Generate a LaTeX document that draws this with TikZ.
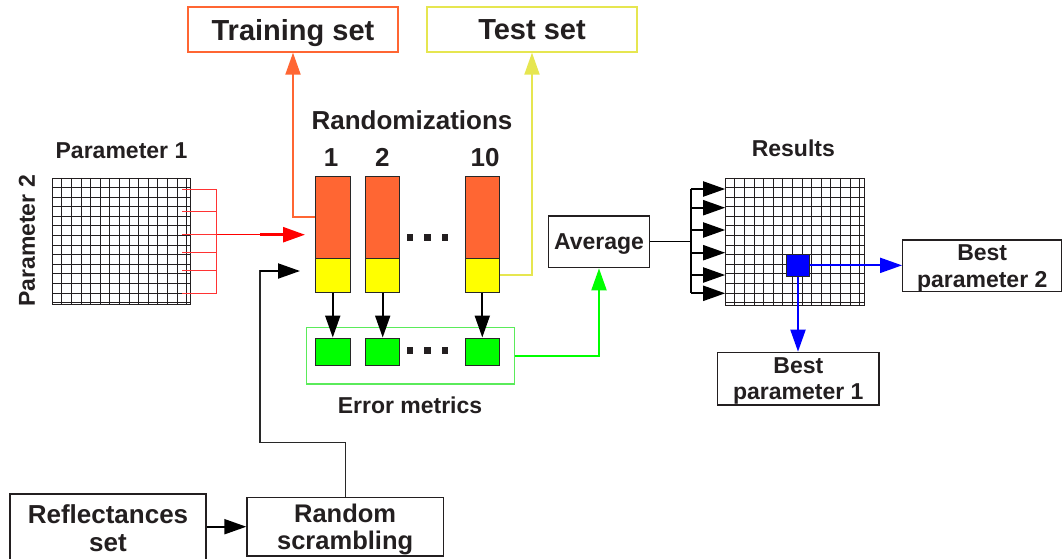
\documentclass[tikz,border=0pt]{standalone}
\usepackage{fontspec}
\setmainfont{Liberation Sans}
\usetikzlibrary{arrows.meta,calc}

\definecolor{ink}{RGB}{35,31,32}
\definecolor{barorange}{RGB}{255,102,51}
\definecolor{baryellow}{RGB}{255,255,0}
\definecolor{metricgreen}{RGB}{0,255,0}
\definecolor{framegreen}{RGB}{90,235,90}
\definecolor{testline}{RGB}{230,230,80}
\definecolor{bestblue}{RGB}{0,0,255}
\definecolor{edge}{RGB}{40,40,40}

\tikzset{
  tip/.style={-{Triangle[length=22pt,width=15pt]}},
  box/.style={draw=ink, line width=1.3pt, fill=white, inner sep=0pt, text depth=0pt,
    text=ink, align=center, font=\fontsize{23}{26.7}\selectfont\bfseries},
  setbox/.style={box, minimum width=210pt, minimum height=45pt,
    font=\fontsize{29}{33}\selectfont\bfseries},
  label/.style={text=ink, inner sep=0pt, font=\fontsize{23}{26}\selectfont\bfseries},
  biglabel/.style={text=ink, inner sep=0pt, font=\fontsize{26}{30}\selectfont\bfseries},
  trainpart/.style={draw=edge, line width=1pt, fill=barorange, minimum width=34.5pt, minimum height=82pt, inner sep=0pt},
  testpart/.style={draw=edge, line width=1pt, fill=baryellow, minimum width=34.5pt, minimum height=34pt, inner sep=0pt},
  metric/.style={draw=edge, line width=1pt, fill=metricgreen, minimum width=34.5pt, minimum height=27.7pt, inner sep=0pt},
  gridframe/.style={draw=ink, line width=1pt, inner sep=0pt},
  gridline/.style={draw=ink, line width=0.9pt},
  dot/.style={fill=ink, minimum size=6.5pt, inner sep=0pt},
  flow/.style={line width=2pt, draw=black},
}

\begin{document}
\begin{tikzpicture}[x=1pt,y=-1pt]
\useasboundingbox (0,0) rectangle (1062,558);

% ---- output sets ----
\node[setbox, draw=barorange] (train) at (293,29.5) {Training set};
\node[setbox, draw=testline] (test) at (532,29.5) {Test set};

% ---- randomization bars ----
\node[biglabel, anchor=base] (randlbl) at (412,129.3) {Randomizations};
\node[biglabel, anchor=base] (n1) at (331,166.7) {1};
\node[biglabel, anchor=base] (n2) at (382.3,166.7) {2};
\node[biglabel, anchor=base] (n10) at (485,166.7) {10};

\foreach \name/\cx in {1/332.75, 2/382.7, 10/482.3} {
  \node[trainpart] (bar\name o) at (\cx,217) {};
  \node[testpart] (bar\name y) at (\cx,275) {};
  \node[metric] (g\name) at (\cx,351.85) {};
}
\foreach \dx [count=\i] in {410,427.5,445} {
  \node[dot] (bd\i) at (\dx,237.7) {};
  \node[dot] (gd\i) at (\dx,350.7) {};
}

% frame around the error metrics
\node[draw=framegreen, line width=1.3pt, minimum width=207.6pt, minimum height=56.7pt, inner sep=0pt] (errors) at (410.5,355.65) {};
\node[label, anchor=base] (errlbl) at (410,413.3) {Error metrics};

\foreach \name in {1,2,10}
  \draw[flow, tip] (bar\name y.south) -- (g\name.north);

% ---- split into training / test ----
\draw[barorange, line width=2pt, tip] (bar1o.west) -| (train.south);
\draw[testline, line width=2pt, tip] (bar10y.east) -| (test.south);

% ---- parameter grid ----
\node[label, anchor=base] (p1lbl) at (121.5,158.3) {Parameter 1};
\node[label, rotate=90] (p2lbl) at (27,241) {Parameter 2};
\node[gridframe, minimum width=138pt, minimum height=126pt] (grid1) at (121.7,241.3) {};
\foreach \k in {1,...,14}
  \draw[gridline] ($(grid1.north west)+(9.6*\k,0)$) -- ($(grid1.south west)+(9.6*\k,0)$);
\foreach \k in {1,...,13}
  \draw[gridline] ($(grid1.north west)+(0,9.6*\k)$) -- ($(grid1.north east)+(0,9.6*\k)$);

% rows of the grid gathered towards the bars
\coordinate (rbtop) at (216.7,189);
\coordinate (rbbot) at (216.7,293.3);
\coordinate (rbmid) at (216.7,234.7);
\coordinate (rtip) at (305,234.7);
\foreach \y in {189,211.7,234.7,252.3,270.3,293.3}
  \draw[red!80, line width=1pt] (182.3,\y) -- (rbtop |- 0,\y);
\draw[red!80, line width=1pt] (rbtop) -- (rbbot);
\draw[red, line width=1pt] (rbmid) -- (260,234.7);
\draw[red, line width=2.5pt, -{Triangle[length=22pt,width=15pt]}] (260,234.7) -- (rtip);

% ---- reflectances and scrambling ----
\node[box, minimum width=196pt, minimum height=68.2pt, font=\fontsize{26}{28}\selectfont\bfseries] (refl) at (108,528.1) {Reflectances\\set};
\node[box, minimum width=196.3pt, minimum height=58.7pt, font=\fontsize{25.5}{27.5}\selectfont\bfseries] (scr) at (345.15,526.65) {Random\\scrambling};
\draw[flow, tip] (refl.east |- 0,526.7) -- (scr.west |- 0,526.7);

\coordinate (turn) at (260,442.7);
\coordinate (feed) at (300,271);
\draw[draw=edge, line width=1.2pt] (scr.north) |- (turn) -- (260,271) -- (278,271);
\draw[flow, tip] (260,271) -- (feed);

% ---- averaging ----
\node[box, minimum width=101.4pt, minimum height=51.7pt] (avg) at (599,241.85) {Average};
\draw[metricgreen, line width=2pt, tip] (errors.east) -| (avg.south);

\node[label, anchor=base] (reslbl) at (793.3,156.7) {Results};
\node[gridframe, minimum width=138.6pt, minimum height=126.7pt] (grid2) at (795,241.65) {};
\foreach \k in {1,...,14}
  \draw[gridline] ($(grid2.north west)+(9.6*\k,0)$) -- ($(grid2.south west)+(9.6*\k,0)$);
\foreach \k in {1,...,13}
  \draw[gridline] ($(grid2.north west)+(0,9.6*\k)$) -- ($(grid2.north east)+(0,9.6*\k)$);

\coordinate (bus) at (690.7,241.85);
\coordinate (bustop) at (690.7,189);
\coordinate (busbot) at (690.7,293.3);
\draw[draw=black, line width=1.2pt] (avg.east) -- (bus);
\draw[flow] (bustop) -- (busbot);
\foreach \y in {189,207.7,230,252.7,275,293.3}
  \draw[flow, tip] (bus |- 0,\y) -- (grid2.west |- 0,\y);

% ---- best cell ----
\node[draw=edge, line width=1pt, fill=bestblue, minimum width=22.6pt, minimum height=22.7pt, inner sep=0pt] (best) at (798,265.35) {};
\node[box, minimum width=159pt, minimum height=51.7pt] (bp2) at (982.2,265.85) {Best\\parameter 2};
\node[box, minimum width=161.3pt, minimum height=52.7pt] (bp1) at (798.35,378.65) {Best\\parameter 1};
\draw[bestblue, line width=2pt, tip] (best.east) -- (best.east -| bp2.west);
\draw[bestblue, line width=2pt, tip] (best.south) -- (best.south |- bp1.north);
\end{tikzpicture}
\end{document}
